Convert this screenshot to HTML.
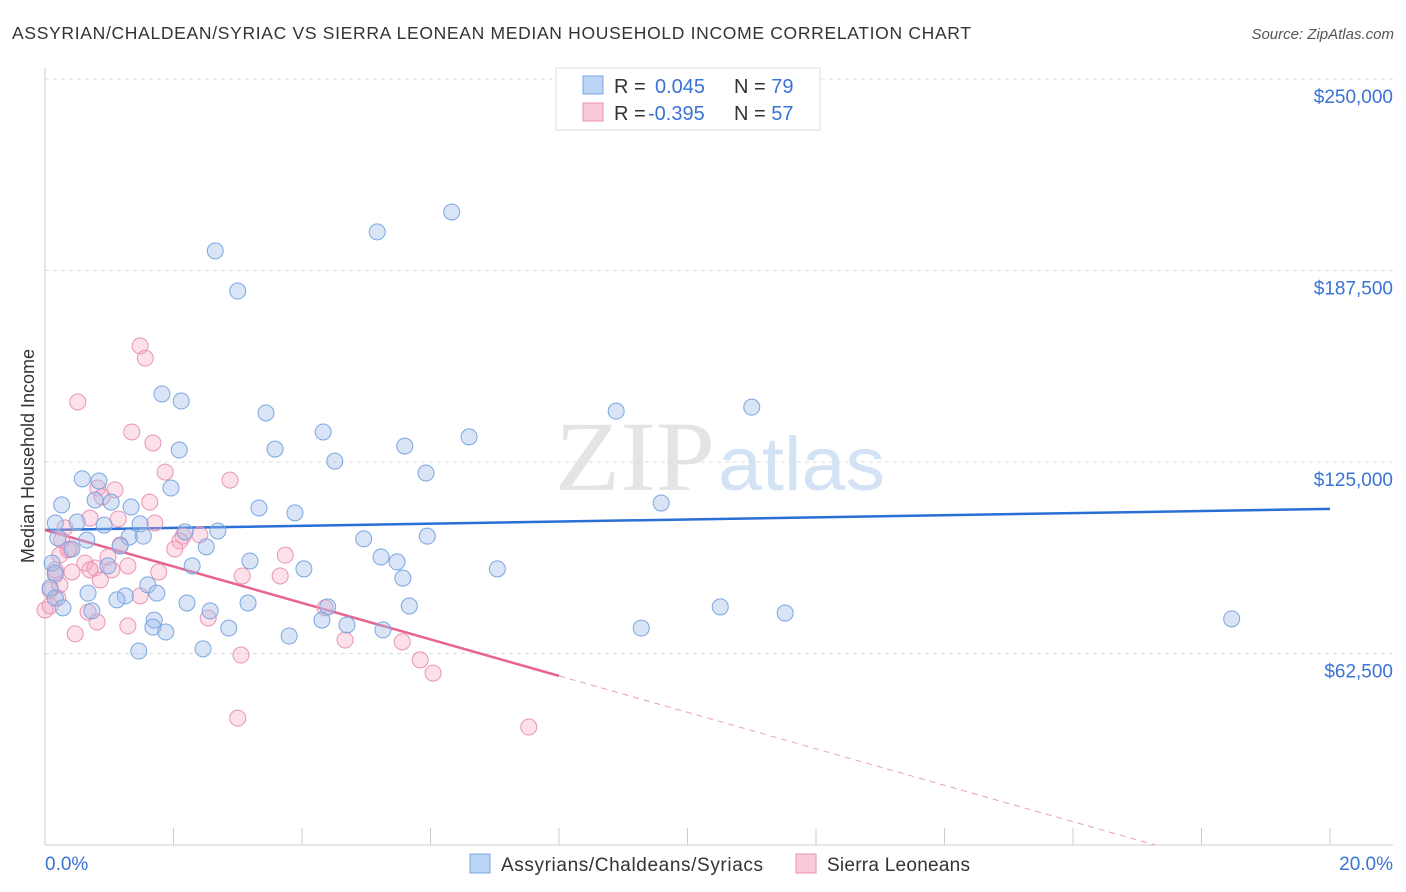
<!DOCTYPE html>
<html><head><meta charset="utf-8"><style>
body{margin:0;background:#fff;font-family:"Liberation Sans",sans-serif;}
svg{display:block}
</style></head><body>
<svg id="chart" width="1406" height="892">
<text x="12" y="39" font-size="17.5" fill="#333" textLength="959" lengthAdjust="spacing">ASSYRIAN/CHALDEAN/SYRIAC VS SIERRA LEONEAN MEDIAN HOUSEHOLD INCOME CORRELATION CHART</text>
<text x="1394" y="39" font-size="15" fill="#555" font-style="italic" text-anchor="end">Source: ZipAtlas.com</text>
<text x="555" y="490" font-size="100" fill="#e4e4e4" textLength="160" lengthAdjust="spacingAndGlyphs" font-family="Liberation Serif">ZIP</text>
<text x="718" y="490" font-size="76" fill="#d3e2f4" textLength="167" lengthAdjust="spacingAndGlyphs">atlas</text>
<text transform="translate(34,456) rotate(-90)" font-size="18" fill="#333" text-anchor="middle">Median Household Income</text>
<g id="grid"></g><g id="axes"></g><g id="lines"></g><g id="pts"></g>
<g>
<rect x="556" y="68" width="264" height="62" fill="#fff" stroke="#ddd"/>
<rect x="583" y="76" width="20" height="18" fill="#bcd4f5" stroke="#7aa6e0"/>
<rect x="583" y="103" width="20" height="18" fill="#f9cad9" stroke="#e994b4"/>
<text x="614" y="93" font-size="20" fill="#333">R = <tspan x="655" fill="#3a73d4">0.045</tspan><tspan x="734">N = </tspan><tspan fill="#3a73d4">79</tspan></text>
<text x="614" y="120" font-size="20" fill="#333">R = <tspan x="648" fill="#3a73d4">-0.395</tspan><tspan x="734">N = </tspan><tspan fill="#3a73d4">57</tspan></text>
</g>
<g>
<rect x="470" y="854" width="20" height="19" fill="#bcd4f5" stroke="#7aa6e0"/>
<text x="501" y="871" font-size="19" fill="#333" textLength="262" lengthAdjust="spacing">Assyrians/Chaldeans/Syriacs</text>
<rect x="796" y="854" width="20" height="19" fill="#f9cad9" stroke="#e994b4"/>
<text x="827" y="871" font-size="19" fill="#333" textLength="143" lengthAdjust="spacing">Sierra Leoneans</text>
</g>
<text x="45" y="870" font-size="19" fill="#3a73d4">0.0%</text>
<text x="1393" y="870" font-size="19" fill="#3a73d4" text-anchor="end">20.0%</text>
</svg>
<script>
const yTicks=[62500,125000,187500,250000];
const yTickLabels=["$62,500","$125,000","$187,500","$250,000"];
const bluePct=[6.33,5.17,2.65,3.00,1.82,2.12,3.44,8.89,11.00,4.33,6.60,5.60,3.58,2.09,4.51,5.93,0.58,0.84,1.96,9.59,0.26,1.03,1.34,3.33,3.89,0.16,0.50,0.92,1.48,2.18,2.69,0.20,0.65,1.53,1.31,4.96,5.95,1.17,2.51,0.42,5.23,5.48,3.19,2.29,4.03,7.04,0.11,0.98,0.16,5.57,1.60,1.74,0.67,1.25,1.12,2.21,3.16,4.40,5.67,10.51,11.52,18.47,2.57,0.73,1.70,4.31,4.70,1.68,1.88,2.86,5.26,9.28,3.80,2.46,1.46,0.08,0.16,0.28,0.78];
const blueInc=[206.6,200.1,193.9,180.8,147.2,144.9,141.0,141.6,142.9,134.8,133.2,130.2,129.2,128.9,125.3,121.4,119.5,118.8,116.5,111.6,111.0,111.9,110.3,110.0,108.4,105.1,105.4,104.4,104.8,102.2,102.5,100.2,99.5,100.8,100.5,99.9,100.8,97.6,97.3,96.6,94.0,92.4,92.7,91.1,90.1,90.1,92.0,91.1,88.8,87.1,84.9,82.2,82.2,81.3,80.0,79.0,79.0,77.7,78.0,77.7,75.7,73.8,76.4,76.4,73.4,73.4,71.8,71.1,69.5,70.8,70.2,70.8,68.2,64.0,63.3,83.9,80.6,77.4,112.6];
const pinkPct=[1.48,1.56,0.51,1.35,1.68,1.87,2.88,0.82,0.89,1.14,1.71,0.70,0.31,2.15,2.10,0.39,1.17,2.02,0.23,0.98,3.74,0.62,0.78,1.04,1.29,0.42,0.70,1.77,3.07,3.66,0.16,0.86,0.20,1.48,0.00,0.08,0.67,0.81,1.29,2.54,4.36,0.47,4.67,5.56,5.84,3.05,6.04,3.00,7.53,0.08,0.16,0.26,0.36,1.09,1.63,0.23,2.41];
const pinkInc=[162.9,158.9,144.6,134.8,131.2,121.7,119.1,116.5,113.6,106.4,105.1,106.7,103.5,100.8,99.2,96.6,97.9,96.6,94.6,94.0,94.6,92.0,90.4,89.8,91.1,89.1,89.8,89.1,87.8,87.8,88.1,86.5,80.6,81.3,76.7,78.0,76.0,72.8,71.5,74.1,77.4,68.9,66.9,66.3,60.4,62.0,56.1,41.4,38.5,83.2,89.8,99.5,96.3,115.9,111.9,84.9,101.2];
const blueTrend=[102.8,109.7];
const pinkTrend=[102.8,-5.95];
const NS="http://www.w3.org/2000/svg";
const X=p=>45+p/20*1285;
const Y=v=>845-v/62.5*191.5;
function mk(tag,at,parent){const e=document.createElementNS(NS,tag);for(const k in at)e.setAttribute(k,at[k]);document.getElementById(parent).appendChild(e);return e;}
yTicks.forEach((t,i)=>{
 const g=mk('line',{x1:45,x2:1393,y1:Y(t/1000),y2:Y(t/1000),stroke:'#ddd','stroke-dasharray':'4,4'},'grid');
 
 
 const l=mk('text',{x:1393,y:Y(t/1000)+24,'font-size':19,fill:'#3a73d4','text-anchor':'end'},'grid');
 l.textContent=yTickLabels[i];
 
 
});
const ax=mk('line',{x1:45,x2:45,y1:68,y2:845,stroke:'#ccc'},'axes');


const bx=mk('line',{x1:45,x2:1393,y1:845,y2:845,stroke:'#ccc'},'axes');


for(let i=0;i<=20;i+=2){
 const t=mk('line',{x1:X(i),x2:X(i),y1:828,y2:845,stroke:'#ccc'},'axes');
 
 
}
const bl=mk('line',{x1:X(0),y1:Y(blueTrend[0]),x2:X(20),y2:Y(blueTrend[1]),stroke:'#2a6fd6','stroke-width':2.5},'lines');


const pe=8,zero=-pinkTrend[0]/pinkTrend[1];
const pl=mk('line',{x1:X(0),y1:Y(pinkTrend[0]),x2:X(pe),y2:Y(pinkTrend[0]+pinkTrend[1]*pe),stroke:'#e8638f','stroke-width':2.5},'lines');


const pd=mk('line',{x1:X(pe),y1:Y(pinkTrend[0]+pinkTrend[1]*pe),x2:X(zero),y2:Y(0),stroke:'#e8a0b8','stroke-width':1,'stroke-dasharray':'6,5'},'lines');


pinkPct.forEach((p,i)=>{
 const c=mk('circle',{cx:X(p),cy:Y(pinkInc[i]),r:8,fill:'rgba(245,170,195,0.35)',stroke:'#e994b4','stroke-width':1},'pts');
 
 
});
bluePct.forEach((p,i)=>{
 const c=mk('circle',{cx:X(p),cy:Y(blueInc[i]),r:8,fill:'rgba(160,190,235,0.4)',stroke:'#7aa6e0','stroke-width':1},'pts');
 
 
});
</script>
</body></html>
